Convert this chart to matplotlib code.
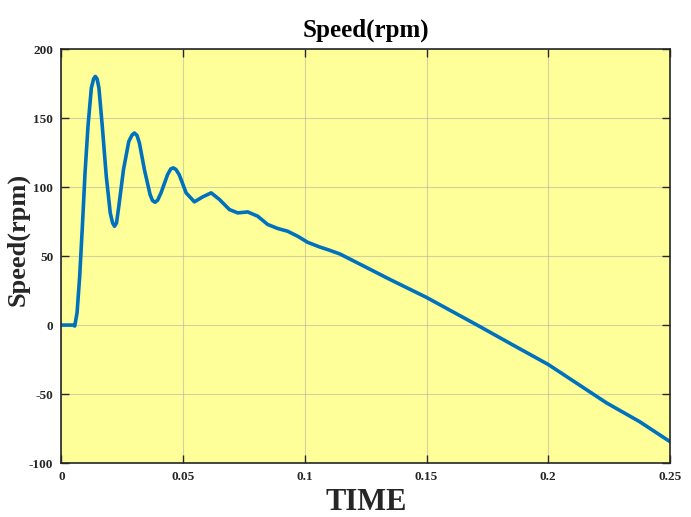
import matplotlib
matplotlib.use("Agg")
import matplotlib.pyplot as plt

# speed response (time in s, speed in rpm)
time = [0.0, 0.00475, 0.00544, 0.0064, 0.00748, 0.00858, 0.00966, 0.01088,
        0.01226, 0.0132, 0.0139, 0.0146, 0.01538, 0.01676, 0.0184, 0.02003,
        0.021, 0.02179, 0.0226, 0.02355, 0.02547, 0.02765, 0.029, 0.02997,
        0.031, 0.03201, 0.03406, 0.03639, 0.0374, 0.03843, 0.0395, 0.04088,
        0.04358, 0.0449, 0.04591, 0.047, 0.04836, 0.0512, 0.0546,
        0.058, 0.0615, 0.0649, 0.069, 0.0724, 0.0765, 0.0806, 0.0847,
        0.0888, 0.0929, 0.097, 0.1011, 0.1059, 0.11, 0.1144, 0.125,
        0.135, 0.15, 0.172, 0.185, 0.2, 0.224, 0.2375, 0.25]
speed = [0.0, 0.0, -0.7, 9.0, 35.5, 71.6, 110.0, 144.0,
         171.8, 178.5, 180.2, 178.5, 171.8, 144.0, 107.8, 81.3,
         74.0, 71.6, 74.0, 86.1, 112.7, 133.1, 137.8, 139.2,
         137.5, 132.0, 112.7, 94.6, 90.2, 89.0, 90.5, 95.8,
         109.0, 113.2, 113.9, 112.8, 109.0, 95.8, 89.3,
         92.9, 95.8, 91.0, 83.7, 81.3, 82.0, 78.9, 72.9,
         70.0, 68.0, 64.4, 60.0, 56.7, 54.3, 51.5, 42.0,
         33.0, 20.0, -1.2, -14.0, -28.6, -56.5, -70.0, -84.5]

x_ticks = [0, 0.05, 0.1, 0.15, 0.2, 0.25]
x_tick_labels = ["0", "0.05", "0.1", "0.15", "0.2", "0.25"]
y_ticks = [-100, -50, 0, 50, 100, 150, 200]
y_tick_labels = ["-100", "-50", "0", "50", "100", "150", "200"]

plt.rcParams['font.family'] = ['Liberation Serif', 'DejaVu Serif']
plt.rcParams['font.weight'] = 'bold'
plt.rcParams['axes.unicode_minus'] = False

fig = plt.figure(figsize=(6.91, 5.17), dpi=100)
ax = fig.add_axes([0.089, 0.1044, 0.8806, 0.8006])
ax.set_facecolor('#ffff99')

ax.plot(time, speed, color='#0072bd', linewidth=2.6,
        solid_joinstyle='round', solid_capstyle='round')

ax.set_xlim(0, 0.25)
ax.set_ylim(-100, 200)
ax.set_xticks(x_ticks)
ax.set_xticklabels(x_tick_labels)
ax.set_yticks(y_ticks)
ax.set_yticklabels(y_tick_labels)
ax.grid(True, color='#b4b4a0', linewidth=0.8, alpha=0.6)
ax.tick_params(direction='in', top=True, right=True, length=6, width=1,
               labelsize=9.5, pad=6, colors='#262626')
for lbl in ax.get_xticklabels() + ax.get_yticklabels():
    lbl.set_fontweight('bold')
for sp in ax.spines.values():
    sp.set_linewidth(1.2)
    sp.set_color('#262626')

ax.set_title('Speed(rpm)', fontsize=18, fontweight='bold', pad=9)
ax.set_xlabel('TIME', fontsize=22, fontweight='bold', labelpad=3,
              color='#262626')
ax.set_ylabel('Speed(rpm)', fontsize=19, fontweight='bold',
              color='#262626', va='center')
ax.yaxis.set_label_coords(-0.071, 0.54)

fig.savefig('out.png', dpi=100)
